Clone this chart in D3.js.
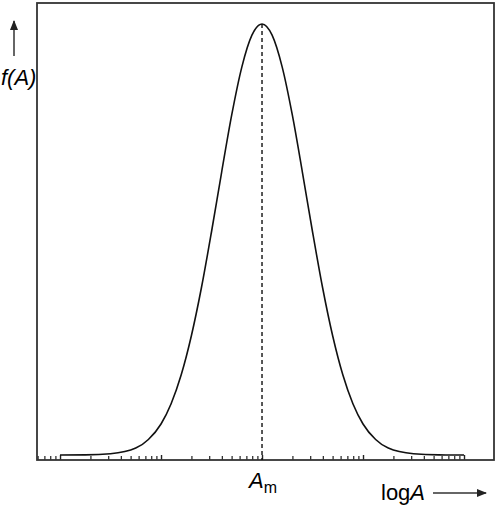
<!DOCTYPE html>
<html>
<head>
<meta charset="utf-8">
<script src="https://cdn.jsdelivr.net/npm/d3@7"></script>
<style>
  body { margin: 0; background: #fff; }
  svg { display: block; font-family: "Liberation Sans", Arial, sans-serif; }
</style>
</head>
<body>
<svg id="svg" width="498" height="526"></svg>
<script>
// distribution: log10(A) and relative f(A)
var logA = [0, 0.25, 0.5, 0.75, 0.875, 1.0, 1.1, 1.2, 1.3, 1.4, 1.5, 1.6, 1.7, 1.8, 1.9, 2.0,
            2.1, 2.2, 2.3, 2.4, 2.5, 2.6, 2.7, 2.8, 2.9, 3.0, 3.125, 3.25, 3.5, 3.75, 4.0];
var fA   = [0.000, 0.0003, 0.003, 0.016, 0.036, 0.072, 0.119, 0.186, 0.276, 0.388, 0.518, 0.656, 0.789, 0.900, 0.974, 1.0,
            0.974, 0.900, 0.789, 0.656, 0.518, 0.388, 0.276, 0.186, 0.119, 0.072, 0.036, 0.016, 0.003, 0.0003, 0.000];
var logAm = 2;             // peak position, A_m = 100
var majorTicks = [1, 10, 100, 1000, 10000];
var domainA = [Math.pow(10, -0.228), Math.pow(10, 4.297)];

var svg = d3.select("#svg");
var box = {left: 37, right: 494, top: 3, bottom: 460};

var xScale = d3.scaleLog()
    .domain(domainA)
    .range([box.left, box.right]);

var yScale = d3.scaleLinear()
    .domain([0, 1])
    .range([455, 24]);

// minor ticks: 2..9 of each decade inside the frame
var minorTicks = [];
for (var e = -1; e <= 4; e++) {
    for (var k = 2; k <= 9; k++) {
        var v = k * Math.pow(10, e);
        if (v > domainA[0] && v < domainA[1]) minorTicks.push(v);
    }
}

svg.append("g")
    .attr("transform", "translate(0," + box.bottom + ")")
    .call(d3.axisTop(xScale).tickValues(minorTicks).tickSize(4).tickFormat("").tickSizeOuter(0))
    .call(function(g) { g.select(".domain").remove(); })
    .selectAll("line").attr("stroke", "#222").attr("stroke-width", 1.2);

svg.append("g")
    .attr("transform", "translate(0," + box.bottom + ")")
    .call(d3.axisTop(xScale).tickValues(majorTicks).tickSize(box.bottom - yScale(0)).tickFormat("").tickSizeOuter(0))
    .call(function(g) { g.select(".domain").remove(); })
    .selectAll("line").attr("stroke", "#222").attr("stroke-width", 1.4);

// frame
svg.append("rect")
    .attr("x", box.left)
    .attr("y", box.top)
    .attr("width", box.right - box.left)
    .attr("height", box.bottom - box.top)
    .attr("fill", "none")
    .attr("stroke", "#333")
    .attr("stroke-width", 1.8);

// curve
var pts = logA.map(function(d, i) { return [Math.pow(10, d), fA[i]]; });
var line = d3.line()
    .x(function(d) { return xScale(d[0]); })
    .y(function(d) { return yScale(d[1]); })
    .curve(d3.curveMonotoneX);

svg.append("path")
    .datum(pts)
    .attr("d", line)
    .attr("fill", "none")
    .attr("stroke", "#111")
    .attr("stroke-width", 1.6);

// dashed line at the peak
var xm = xScale(Math.pow(10, logAm));
svg.append("line")
    .attr("x1", xm).attr("x2", xm)
    .attr("y1", yScale(1)).attr("y2", box.bottom)
    .attr("stroke", "#111")
    .attr("stroke-width", 1.4)
    .attr("stroke-dasharray", "4,3");

// arrow heads
var defs = svg.append("defs");
defs.append("marker")
    .attr("id", "arrow")
    .attr("viewBox", "0 0 10 10")
    .attr("refX", 9).attr("refY", 5)
    .attr("markerWidth", 10).attr("markerHeight", 8)
    .attr("markerUnits", "userSpaceOnUse")
    .attr("orient", "auto")
    .attr("preserveAspectRatio", "none")
    .append("path")
    .attr("d", "M0,0 L10,5 L0,10 z")
    .attr("fill", "#222");

// y label
svg.append("line")
    .attr("x1", 14).attr("x2", 14)
    .attr("y1", 56).attr("y2", 21)
    .attr("stroke", "#333").attr("stroke-width", 1.5)
    .attr("marker-end", "url(#arrow)");

svg.append("text")
    .attr("x", 1).attr("y", 85)
    .style("font-size", "22px")
    .style("font-style", "italic")
    .text("f(A)");

// A_m label
var am = svg.append("text")
    .attr("x", 249).attr("y", 488)
    .style("font-size", "22px");
am.append("tspan").style("font-style", "italic").text("A");
am.append("tspan").attr("dy", 5).style("font-size", "16px").text("m");

// x label
var xl = svg.append("text")
    .attr("x", 381).attr("y", 500)
    .style("font-size", "22px");
xl.append("tspan").text("log");
xl.append("tspan").style("font-style", "italic").text("A");

svg.append("line")
    .attr("x1", 433).attr("x2", 486)
    .attr("y1", 493).attr("y2", 493)
    .attr("stroke", "#333").attr("stroke-width", 1.5)
    .attr("marker-end", "url(#arrow)");
</script>
</body>
</html>
